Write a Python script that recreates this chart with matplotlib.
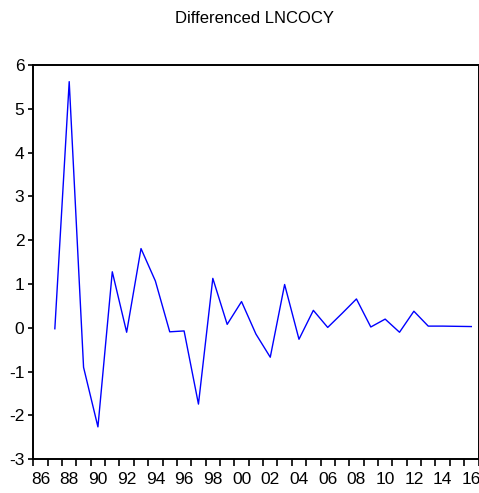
import matplotlib
matplotlib.use("Agg")
import matplotlib.pyplot as plt
from matplotlib.ticker import FixedLocator, NullFormatter

plt.rcParams["font.family"] = ["Liberation Sans", "DejaVu Sans"]
plt.rcParams["axes.unicode_minus"] = False

years = list(range(1987, 2017))
dlncocy = [
    -0.02, 5.62, -0.90, -2.26, 1.28, -0.10, 1.81, 1.07, -0.09, -0.07,
    -1.74, 1.13, 0.08, 0.60, -0.14, -0.67, 0.99, -0.26, 0.40, 0.01,
    0.33, 0.66, 0.02, 0.20, -0.10, 0.38, 0.04, 0.04, 0.035, 0.03,
]
y_ticks = list(range(-3, 7))
x_label_years = list(range(1986, 2017, 2))

fig = plt.figure(figsize=(4.79, 4.93), dpi=100)
ax = fig.add_axes([33.3 / 479, 33.7 / 493, 445.2 / 479, 394.3 / 493])

# observations sit in the middle of each year
ax.plot([y + 0.5 for y in years], dlncocy, color="#0000ff", lw=1.0)

ax.set_xlim(1986, 2017)
ax.set_ylim(-3, 6)
ax.set_yticks(y_ticks)
ax.set_yticklabels([str(v) for v in y_ticks])

ax.xaxis.set_major_locator(FixedLocator(range(1986, 2018)))
ax.xaxis.set_major_formatter(NullFormatter())
ax.xaxis.set_minor_locator(FixedLocator([y + 0.5 for y in x_label_years]))
ax.set_xticklabels([f"{y % 100:02d}" for y in x_label_years], minor=True)

ax.tick_params(axis="x", which="major", length=5, width=1.2, direction="out")
ax.tick_params(axis="x", which="minor", length=0, pad=9.5, labelsize=12.5)
ax.tick_params(axis="y", length=3.5, width=1.2, direction="out", pad=3, labelsize=12.5)

for side in ["left", "bottom", "top", "right"]:
    ax.spines[side].set_linewidth(1.4)

fig.text(0.532, 0.962, "Differenced LNCOCY", ha="center", va="center", fontsize=12)

fig.savefig("out.png", dpi=100)
